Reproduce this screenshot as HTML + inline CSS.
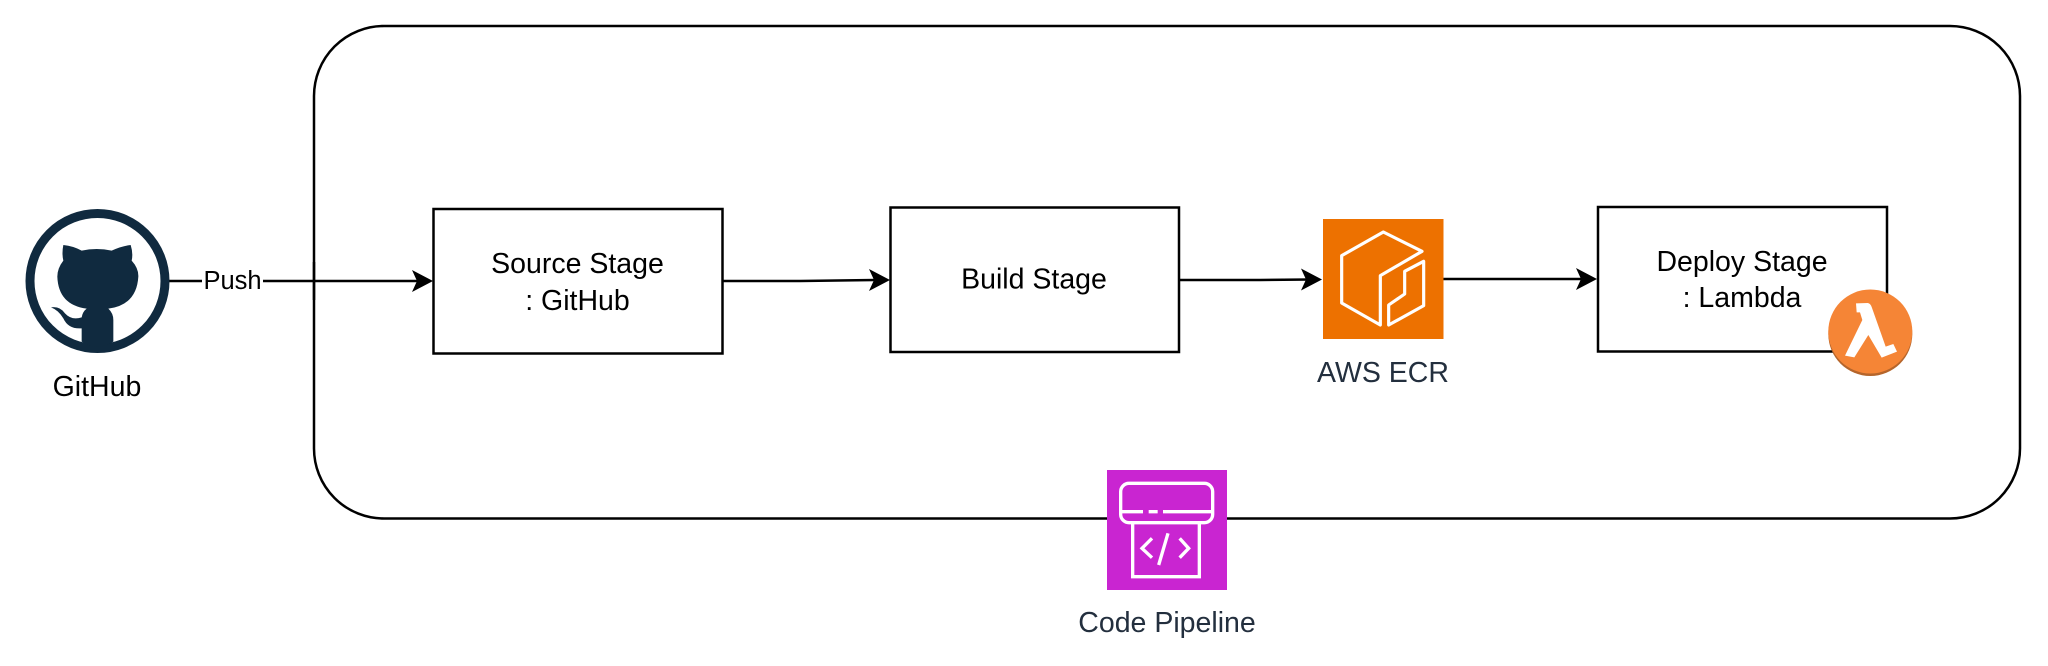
<!DOCTYPE html>
<html>
<head>
<meta charset="utf-8">
<style>
html,body{margin:0;padding:0;background:#fff;width:2048px;height:666px;overflow:hidden}
svg{display:block}
text{font-family:"Liberation Sans",Arial,sans-serif;font-size:28.5px;text-anchor:middle;fill:#000}
.d{fill:#232F3E}
</style>
</head>
<body>
<svg width="2048" height="666" viewBox="0 0 2048 666" xmlns="http://www.w3.org/2000/svg">
<defs>
<path id="ah" d="M0,0 L-21,-11 L-16,0 L-21,11 Z" fill="#000"/>
</defs>
<rect x="0" y="0" width="2048" height="666" fill="#fff"/>

<!-- container -->
<rect x="314" y="26" width="1706" height="492.500" rx="70" ry="70" fill="none" stroke="#000" stroke-width="2.500"/>

<!-- connectors -->
<path d="M169,281 H422" fill="none" stroke="#000" stroke-width="2.500"/>
<use href="#ah" x="433" y="281"/>
<path d="M723,281 H800 L875,280" fill="none" stroke="#000" stroke-width="2.500"/>
<use href="#ah" x="890" y="280"/>
<path d="M1179,280 H1260 L1310,279.500" fill="none" stroke="#000" stroke-width="2.500"/>
<use href="#ah" x="1322" y="279.500"/>
<path d="M1443,279 H1585" fill="none" stroke="#000" stroke-width="2.500"/>
<use href="#ah" x="1597" y="279"/>

<!-- Push label -->
<rect x="202" y="266" width="61" height="30" fill="#fff"/>
<text x="232.500" y="289" style="font-size:25.500px">Push</text>
<path d="M314,262 V300" stroke="#000" stroke-width="2.500"/>

<!-- GitHub icon -->
<circle cx="97.500" cy="281" r="67.500" fill="#fff" stroke="#102A3F" stroke-width="9"/>
<g transform="translate(40,230) scale(0.33333)">
<path fill="#102A3F" d="M70,45 Q100,48 125,62 Q170,52 215,62 Q245,48 272,45 Q280,70 275,92 Q296,115 295,140 Q290,225 205,236 Q220,250 220,270 L220,335 Q172,365 125,335 L125,295 Q85,298 70,265 Q55,240 33,232 Q60,228 75,250 Q95,272 125,262 Q128,245 140,236 Q55,225 52,140 Q52,115 70,92 Q65,70 70,45 Z"/>
</g>
<text x="97" y="396">GitHub</text>

<!-- Source -->
<rect x="433.500" y="209" width="289" height="144.500" fill="#fff" stroke="#000" stroke-width="2.500"/>
<text x="577.500" y="273">Source Stage</text>
<text x="577.500" y="310">: GitHub</text>

<!-- Build -->
<rect x="890.500" y="207.500" width="288.500" height="144.500" fill="#fff" stroke="#000" stroke-width="2.500"/>
<text x="1034" y="288.500">Build Stage</text>

<!-- ECR -->
<rect x="1323" y="219" width="120.500" height="120" fill="#ED7100"/>
<g transform="translate(1323,219) scale(0.33333)" fill="none" stroke="#fff" stroke-width="9.500" stroke-linejoin="round" stroke-linecap="round">
<path d="M297,97 L181,39 L56,110 L56,252 L172,318 L172,170 Z"/>
<path d="M302,127 V260 L197,318 V258 L245,225 V157 Z"/>
</g>
<text class="d" x="1383" y="382">AWS ECR</text>

<!-- Deploy -->
<rect x="1598" y="207" width="289" height="144.500" fill="#fff" stroke="#000" stroke-width="2.500"/>
<text x="1742" y="271">Deploy Stage</text>
<text x="1742" y="307">: Lambda</text>

<!-- Lambda -->
<circle cx="1870.300" cy="334" r="42" fill="#B5652B"/>
<circle cx="1870.300" cy="331.500" r="42" fill="#F58536"/>
<g transform="translate(1825,285) scale(0.33333)">
<path fill="#fff" d="M93,55 L128,54 Q136,55 140,66 L182,185 L205,177 L216,200 L170,218 L130,150 L88,217 L60,212 L112,105 L105,82 L95,82 Z"/>
</g>

<!-- Code Pipeline -->
<rect x="1107" y="470" width="120" height="120" fill="#C925D1"/>
<g transform="translate(1107,470) scale(0.33333)" fill="none" stroke="#fff" stroke-width="10">
<rect x="41" y="40" width="276" height="118" rx="25" ry="25"/>
<path d="M41,125 H108 M125,125 H152 M168,125 H317"/>
<path d="M77,158 V320 H277 V158"/>
<path d="M135,205 L105,235 L135,263 M218,205 L245,235 L218,263 M183,190 L155,285"/>
</g>
<text class="d" x="1167" y="632">Code Pipeline</text>
</svg>
</body>
</html>
